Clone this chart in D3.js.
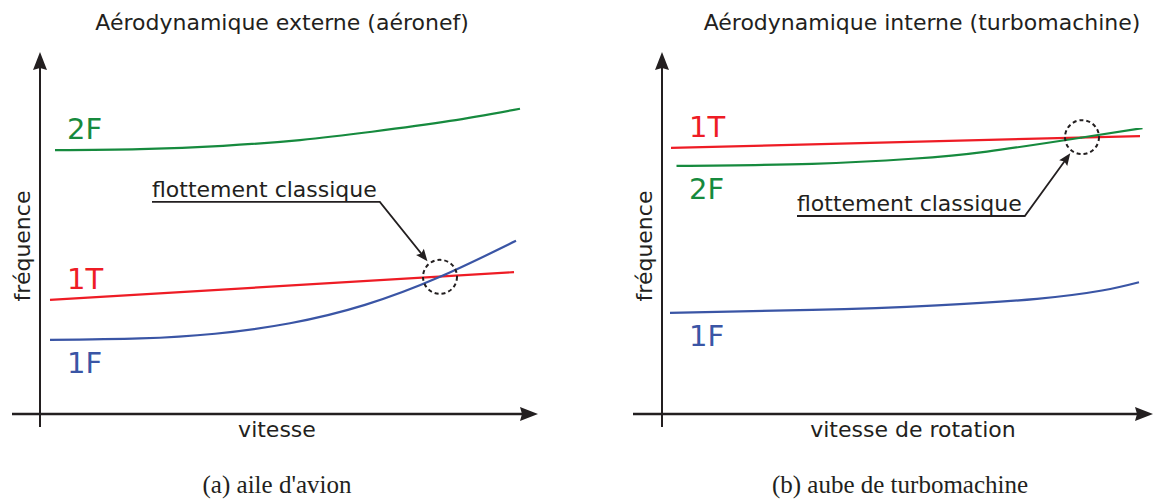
<!DOCTYPE html>
<html>
<head>
<meta charset="utf-8">
<script src="https://cdn.jsdelivr.net/npm/d3@7"></script>
<style>
  body { margin: 0; background: #fff; }
  svg { display: block; }
</style>
</head>
<body>
<script>
// Canvas
const width = 1155, height = 500;

// Panel (a) : aile d'avion -- [vitesse, fréquence] in 0..100 units
const extTitle = "Aérodynamique externe (aéronef)";
const extXLabel = "vitesse";
const extCaption = "(a) aile d'avion";
const ext2F = [[3, 73.3], [20, 73.6], [36.6, 74.5], [52, 76.1], [66.4, 78.4], [82, 81.4], [96, 84.8]];
const ext1T = [[2, 31.7], [94.8, 39.4]];
const ext1F = [[2, 20.6], [20, 21.0], [35, 22.3], [50, 25.2], [65, 30.3], [80, 38.1], [95.2, 48.1]];
const extFlutter = [80, 38.1];      // crossing 1T / 1F
const extNote = [22.4, 58.9];       // start of the annotation underline

// Panel (b) : aube de turbomachine
const intTitle = "Aérodynamique interne (turbomachine)";
const intXLabel = "vitesse de rotation";
const intCaption = "(b) aube de turbomachine";
const int1T = [[1.8, 73.9], [95.6, 77.2]];
const int2F = [[2.9, 68.9], [30, 69.5], [50, 70.9], [65, 72.9], [84, 76.8], [96.1, 79.4]];
const int1F = [[1.6, 28.1], [30, 28.9], [55, 30.2], [75, 32.0], [88, 34.3], [95.4, 36.6]];
const intFlutter = [84, 76.9];      // crossing 1T / 2F
const intNote = [27, 55];

const yLabel = "fréquence";
const noteText = "flottement classique";

const colors = { "1F": "#3a55a5", "1T": "#ee1c25", "2F": "#168a3e" };
const ink = "#231f20";
const sans = "'DejaVu Sans', sans-serif";

const svg = d3.select("body").append("svg")
    .attr("width", width)
    .attr("height", height);

function arrowHead(g, x, y, angle, len, half, notch) {
    g.append("path")
        .attr("d", `M0,0 L${-len},${-half} L${-len + notch},0 L${-len},${half} Z`)
        .attr("transform", `translate(${x},${y}) rotate(${angle})`)
        .attr("fill", ink);
}

function drawPanel(p) {
    const g = svg.append("g");

    const x = d3.scaleLinear().domain([0, 100]).range([p.left, p.left + 500]);
    const y = d3.scaleLinear().domain([0, 100]).range([414, 54]);

    // axes
    const ox = x(0), oy = y(0);
    g.append("line")
        .attr("x1", ox).attr("x2", ox)
        .attr("y1", oy + 13).attr("y2", y(100) + 6)
        .attr("stroke", ink).attr("stroke-width", 2);
    arrowHead(g, ox, y(100) - 2, -90, 18, 7, 2);

    g.append("line")
        .attr("x1", ox - p.xAxisBack).attr("x2", p.xTip - 6)
        .attr("y1", oy).attr("y2", oy)
        .attr("stroke", ink).attr("stroke-width", 2.4);
    arrowHead(g, p.xTip, oy, 0, 18, 7, 2);

    // titles and labels
    g.append("text")
        .attr("x", p.titleX).attr("y", 30)
        .attr("text-anchor", "middle")
        .style("font-family", sans).style("font-size", "22px")
        .attr("fill", ink)
        .text(p.title);

    g.append("text")
        .attr("transform", `translate(${ox - 10},${246}) rotate(-90)`)
        .attr("text-anchor", "middle")
        .style("font-family", sans).style("font-size", "22px")
        .attr("fill", ink)
        .text(yLabel);

    g.append("text")
        .attr("x", p.xLabelX).attr("y", 437)
        .attr("text-anchor", "middle")
        .style("font-family", sans).style("font-size", "22px")
        .attr("fill", ink)
        .text(p.xLabel);

    g.append("text")
        .attr("x", p.captionX).attr("y", 493)
        .attr("text-anchor", "middle")
        .style("font-family", "'Liberation Serif', 'Times New Roman', serif")
        .style("font-size", "25px")
        .attr("fill", ink)
        .text(p.caption);

    // curves
    const line = d3.line()
        .x(d => x(d[0]))
        .y(d => y(d[1]))
        .curve(d3.curveNatural);

    p.series.forEach(s => {
        g.append("path")
            .datum(s.values)
            .attr("d", line)
            .attr("fill", "none")
            .attr("stroke", colors[s.mode])
            .attr("stroke-width", 2.2);

        const first = s.values[0];
        g.append("text")
            .attr("x", ox + 27)
            .attr("y", y(first[1]) + (s.below ? 33 : -11))
            .style("font-family", sans).style("font-size", "29px")
            .attr("fill", colors[s.mode])
            .text(s.mode);
    });

    // flutter point + annotation
    const cx = x(p.flutter[0]), cy = y(p.flutter[1]), r = 17;
    g.append("circle")
        .attr("cx", cx).attr("cy", cy).attr("r", r)
        .attr("fill", "none")
        .attr("stroke", ink)
        .attr("stroke-width", 2)
        .attr("stroke-dasharray", "4,3");

    const nx = x(p.note[0]), ny = y(p.note[1]);
    const t = g.append("text")
        .attr("x", nx).attr("y", ny - 5)
        .style("font-family", sans).style("font-size", "22px")
        .attr("fill", ink)
        .text(noteText);
    const ex = nx + t.node().getComputedTextLength() + 3;

    const dx = ex - cx, dy = ny - cy, dist = Math.hypot(dx, dy);
    const tx = cx + dx / dist * (r + 3), ty = cy + dy / dist * (r + 3);
    g.append("path")
        .attr("d", `M${nx},${ny} L${ex},${ny} L${tx + dx / dist * 6},${ty + dy / dist * 6}`)
        .attr("fill", "none")
        .attr("stroke", ink)
        .attr("stroke-width", 1.8);
    arrowHead(g, tx, ty, Math.atan2(-dy, -dx) * 180 / Math.PI, 12, 5, 2);
}

drawPanel({
    left: 40, xAxisBack: 28, xTip: 538,
    titleX: 282, xLabelX: 277, captionX: 277,
    title: extTitle, xLabel: extXLabel, caption: extCaption,
    series: [
        { mode: "2F", values: ext2F, below: false },
        { mode: "1T", values: ext1T, below: false },
        { mode: "1F", values: ext1F, below: true }
    ],
    flutter: extFlutter, note: extNote
});

drawPanel({
    left: 662, xAxisBack: 29, xTip: 1153,
    titleX: 922, xLabelX: 913, captionX: 900,
    title: intTitle, xLabel: intXLabel, caption: intCaption,
    series: [
        { mode: "1T", values: int1T, below: false },
        { mode: "2F", values: int2F, below: true },
        { mode: "1F", values: int1F, below: true }
    ],
    flutter: intFlutter, note: intNote
});
</script>
</body>
</html>
